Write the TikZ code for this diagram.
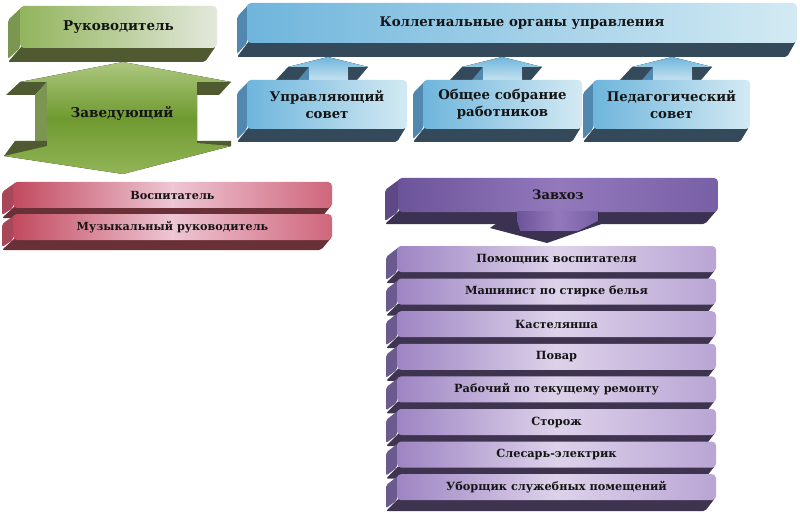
\documentclass[tikz,border=0pt]{standalone}
\usepackage{fontspec}
\setmainfont{DejaVu Serif}
\usetikzlibrary{calc}
\definecolor{gF1}{HTML}{92B45C}
\definecolor{gF2}{HTML}{E3E8DC}
\definecolor{gA1}{HTML}{ADC77F}
\definecolor{gA2}{HTML}{6F9A30}
\definecolor{gA3}{HTML}{92B457}
\definecolor{gDark}{HTML}{4F5A31}
\definecolor{gSide}{HTML}{7B9650}
\definecolor{bF1}{HTML}{6FB5DC}
\definecolor{bF2}{HTML}{D3EAF3}
\definecolor{bDark}{HTML}{34495A}
\definecolor{bSide}{HTML}{5088B0}
\definecolor{pF1}{HTML}{C24A5F}
\definecolor{pF2}{HTML}{EEC6D4}
\definecolor{pF3}{HTML}{CF667C}
\definecolor{pDark}{HTML}{6A3038}
\definecolor{pSide}{HTML}{A8475A}
\definecolor{uF1}{HTML}{9E85C3}
\definecolor{uF2}{HTML}{DDD2EA}
\definecolor{uF3}{HTML}{B9A5D4}
\definecolor{uDark}{HTML}{3E3450}
\definecolor{uSide}{HTML}{6B5A8E}
\definecolor{zF1}{HTML}{6C549A}
\definecolor{zF2}{HTML}{9378BC}
\definecolor{zF3}{HTML}{7860A6}
\definecolor{zDark}{HTML}{3B3150}
\definecolor{zSide}{HTML}{5D4A85}
\definecolor{txt}{HTML}{141414}
\tikzset{
  frontbox/.style={rounded corners=4pt, inner sep=0pt, align=center, text=txt},
  greenfront/.style={left color=gF1, right color=gF2, font=\fontsize{13.5}{16}\selectfont\bfseries},
  greenside/.style={fill=gSide},
  greendark/.style={fill=gDark},
  bluefront/.style={left color=bF1, right color=bF2, font=\fontsize{13.3}{17}\selectfont\bfseries},
  blueside/.style={fill=bSide},
  bluedark/.style={fill=bDark},
  pinkfront/.style={left color=pF1, right color=pF3, middle color=pF2, font=\fontsize{11.2}{13}\selectfont\bfseries},
  pinkside/.style={fill=pSide},
  pinkdark/.style={fill=pDark},
  purplefront/.style={left color=uF1, right color=uF3, middle color=uF2, font=\fontsize{11.3}{13}\selectfont\bfseries},
  purpleside/.style={fill=uSide},
  purpledark/.style={fill=uDark},
  zavfront/.style={left color=zF1, right color=zF3, middle color=zF2, font=\fontsize{13}{15}\selectfont\bfseries},
  zavside/.style={fill=zSide},
  zavdark/.style={fill=zDark},
  arrfront/.style={top color=bF1, bottom color=bF2},
  garrfront/.style={top color=gA1, bottom color=gA3, middle color=gA2},
}
% #1 name, #2 x1, #3 y1, #4 x2, #5 y2, #6 dx, #7 dy, #8 family, #9 text
\newcommand\tdbox[9]{%
  \fill[#8side, rounded corners=2pt] (#2+2,#3+1) -- (#2-#6,#3+#7) -- (#2-#6,#5+#7-3) -- (#2,#5) -- cycle;
  \fill[#8dark, rounded corners=2pt] (#2+2,#5-2) -- (#2-#6,#5+#7) -- (#4-#6,#5+#7) -- (#4-1,#5-2) -- cycle;
  \node[frontbox,#8front,minimum width={(#4-#2)*1pt},minimum height={(#5-#3)*1pt}] (#1) at ({(#2+#4)/2},{(#3+#5)/2}) {#9};
}
% small up arrow centred at #1
\newcommand\uparr[1]{%
  \fill[bluedark] (#1-40,67) -- (#1-19,67) -- (#1-28,80) -- (#1-52,80) -- cycle;
  \fill[bluedark] (#1+20,67) -- (#1+40,67) -- (#1+29,80) -- (#1+20,80) -- cycle;
  \fill[blueside] (#1-19,67) -- (#1-19,84) -- (#1-30,84) -- (#1-30,80) -- cycle;
  \fill[arrfront] (#1,57) -- (#1+40,67) -- (#1+20,67) -- (#1+20,84) -- (#1-19,84) -- (#1-19,67) -- (#1-40,67) -- cycle;
}
\begin{document}
\begin{tikzpicture}[x=1pt,y=-1pt]
\fill[white] (0,0) rectangle (800,513);
\useasboundingbox (0,0) rectangle (800,513);

% top row
\tdbox{ruk}{20}{6}{217}{48}{12}{14}{green}{Руководитель}
\tdbox{kol}{247}{3}{797}{43}{10}{14}{blue}{Коллегиальные органы управления}

% double arrow "Заведующий"
\fill[greendark] (20,82) -- (47,82) -- (35,95) -- (6,95) -- cycle;
\fill[greendark] (197,82) -- (231,82) -- (219,95) -- (197,95) -- cycle;
\fill[greenside] (47,82) -- (47,143) -- (35,143) -- (35,95) -- cycle;
\fill[greendark] (15,141) -- (47,141) -- (47,146) -- (4,156) -- cycle;
\fill[greendark] (197,141) -- (231,141) -- (231,146) -- (197,143) -- cycle;
\fill[garrfront] (123,62) -- (231,82) -- (197,82) -- (197,143) -- (231,146) -- (123,174) -- (4,156) -- (47,146) -- (47,82) -- (20,82) -- cycle;
\node[font=\fontsize{13.5}{16}\selectfont\bfseries, text=txt] (zav) at (122,113) {Заведующий};

% collegial bodies
\uparr{328}
\uparr{502}
\uparr{672}
\tdbox{upr}{247}{80}{407}{129}{10}{13}{blue}{Управляющий\\совет}
\tdbox{obs}{423}{80}{582}{129}{10}{13}{blue}{Общее собрание\\работников}
\tdbox{ped}{593}{80}{750}{129}{10}{13}{blue}{Педагогический\\совет}

% pink
\tdbox{vos}{13}{182}{332}{208}{11}{10}{pink}{Воспитатель}
\tdbox{muz}{13}{214}{332}{240}{11}{10}{pink}{Музыкальный руководитель}

% Завхоз
\tdbox{zavh}{398}{178}{718}{212}{13}{12}{zav}{Завхоз}
\fill[zavdark] (500,221) -- (610,221) -- (547,243) -- (490,228) -- cycle;
\fill[zavfront] (517,211) -- (598,211) -- (598,221) -- (578,231) -- (520,231) -- (517,221) -- cycle;

% list
\foreach \t [count=\i from 0] in {Помощник воспитателя, Машинист по стирке белья, Кастелянша, Повар, Рабочий по текущему ремонту, Сторож, Слесарь-электрик, Уборщик служебных помещений}{
  \pgfmathsetmacro\ya{246+32.6*\i}
  \pgfmathsetmacro\yb{\ya+26}
  \tdbox{item\i}{397}{\ya}{716}{\yb}{11}{11}{purple}{\t}
}
\end{tikzpicture}
\end{document}
